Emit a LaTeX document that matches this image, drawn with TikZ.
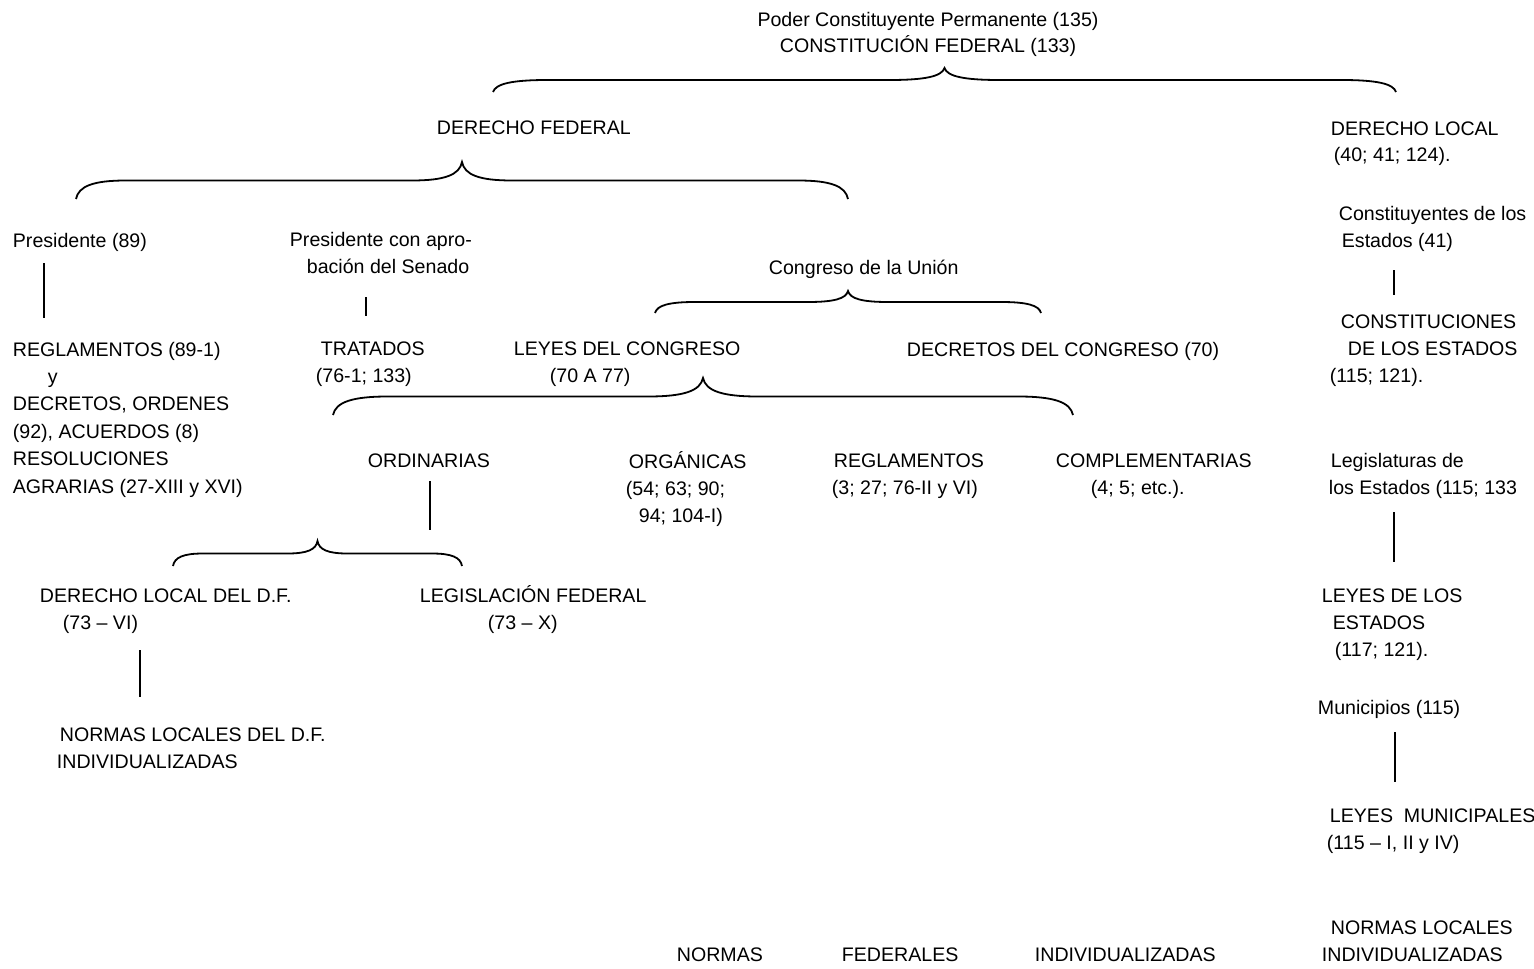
\documentclass[tikz,border=0pt]{standalone}
\usepackage{fontspec}
\setmainfont{Liberation Sans}
\usetikzlibrary{calc}

% curly brace opening downwards: x left, x right, y of the ends, height, curl width
\newcommand{\llave}[5]{%
  \draw (#1,#3) .. controls ({#1+0.05*#5},{#3-0.35*#4}) and ({#1+0.35*#5},{#3-0.5*#4}) .. ({#1+#5},{#3-0.5*#4})
    -- ({(#1+#2)/2-#5},{#3-0.5*#4}) .. controls ({(#1+#2)/2-0.35*#5},{#3-0.5*#4}) and ({(#1+#2)/2-0.05*#5},{#3-0.65*#4}) .. ({(#1+#2)/2},{#3-#4})
    .. controls ({(#1+#2)/2+0.05*#5},{#3-0.65*#4}) and ({(#1+#2)/2+0.35*#5},{#3-0.5*#4}) .. ({(#1+#2)/2+#5},{#3-0.5*#4})
    -- ({#2-#5},{#3-0.5*#4}) .. controls ({#2-0.35*#5},{#3-0.5*#4}) and ({#2-0.05*#5},{#3-0.35*#4}) .. (#2,#3);}

% multi-line texts sit on the baseline of their last line
\tikzset{
  txt/.style={anchor=base west, inner sep=0pt, align=left},
}

\begin{document}
\begin{tikzpicture}[x=0.5pt, y=-0.5pt, font=\fontsize{9.8}{13.4}\selectfont, line width=0.9pt]
  \useasboundingbox (0,0) rectangle (1534,968);

  % Constitucion
  \node[anchor=base, inner sep=0pt, align=center] (const) at (928,53)
    {Poder Constituyente Permanente (135)\\CONSTITUCIÓN FEDERAL (133)};
  \llave{493}{1396}{92}{24}{55}

  \node[txt] (fed) at (436,135) {DERECHO FEDERAL};
  \node[txt] (loc) at (1330,162) {DERECHO LOCAL\\\hspace*{1.5pt}(40; 41; 124).};

  % federal branch
  \llave{76}{848}{199}{37}{50}
  \node[txt] (pres) at (12,247) {Presidente (89)};
  \node[txt] (sen) at (289,273) {Presidente con apro-\\\hspace*{8.5pt}bación del Senado};
  \node[txt] (cong) at (768,274) {Congreso de la Unión};
  \llave{655}{1041}{313}{22}{40}

  \coordinate (b1a) at (44,263);  \coordinate (b1b) at (44,318);
  \coordinate (b2a) at (366,297); \coordinate (b2b) at (366,316);
  \draw (b1a) -- (b1b);
  \draw (b2a) -- (b2b);

  \node[txt, font=\fontsize{9.8}{13.7}\selectfont] (regl) at (12,493)
    {REGLAMENTOS (89-1)\\\hspace*{17.5pt}y\\DECRETOS, ORDENES\\(92), ACUERDOS (8)\\RESOLUCIONES\\AGRARIAS (27-XIII y XVI)};
  \node[txt] (trat) at (315,382) {\hspace*{2.5pt}TRATADOS\\(76-1; 133)};
  \node[txt] (leyes) at (513,382) {LEYES DEL CONGRESO\\\hspace*{18pt}(70 A 77)};
  \node[txt] (decr) at (906,356) {DECRETOS DEL CONGRESO (70)};

  % leyes del congreso
  \llave{333}{1073}{415}{37}{55}
  \node[txt] (ordi) at (367,467) {ORDINARIAS};
  \node[txt] (orga) at (625,522) {\hspace*{1.5pt}ORGÁNICAS\\(54; 63; 90;\\\hspace*{6.5pt}94; 104-I)};
  \node[txt] (regc) at (831,494) {\hspace*{1pt}REGLAMENTOS\\(3; 27; 76-II y VI)};
  \node[txt] (comp) at (1055,494) {COMPLEMENTARIAS\\\hspace*{17.5pt}(4; 5; etc.).};

  \coordinate (b3a) at (430,481); \coordinate (b3b) at (430,530);
  \draw (b3a) -- (b3b);
  \llave{173}{462}{566}{25}{30}

  \node[txt] (dfloc) at (39,629) {DERECHO LOCAL DEL D.F.\\\hspace*{11.5pt}(73 – VI)};
  \node[txt] (legf) at (419,629) {LEGISLACIÓN FEDERAL\\\hspace*{34pt}(73 – X)};
  \coordinate (b4a) at (140,650); \coordinate (b4b) at (140,697);
  \draw (b4a) -- (b4b);
  \node[txt] (dfnor) at (56,768) {\hspace*{1.5pt}NORMAS LOCALES DEL D.F.\\INDIVIDUALIZADAS};

  % local branch
  \node[txt] (cest) at (1338,247) {Constituyentes de los\\\hspace*{1.5pt}Estados (41)};
  \coordinate (b5a) at (1394,270); \coordinate (b5b) at (1394,295);
  \draw (b5a) -- (b5b);
  \node[txt] (const2) at (1329,382) {\hspace*{5.5pt}CONSTITUCIONES\\\hspace*{9pt}DE LOS ESTADOS\\(115; 121).};
  \node[txt] (legis) at (1328,494) {\hspace*{1pt}Legislaturas de\\los Estados (115; 133};
  \coordinate (b6a) at (1394,512); \coordinate (b6b) at (1394,562);
  \draw (b6a) -- (b6b);
  \node[txt] (lest) at (1321,656) {LEYES DE LOS\\\hspace*{5.5pt}ESTADOS\\\hspace*{6.5pt}(117; 121).};
  \node[txt] (muni) at (1317,714) {Municipios (115)};
  \coordinate (b7a) at (1395,732); \coordinate (b7b) at (1395,782);
  \draw (b7a) -- (b7b);
  \node[txt] (lmun) at (1326,849) {\hspace*{1.5pt}LEYES \ MUNICIPALES\\(115 – I, II y IV)};
  \node[txt] (nloc) at (1321,961) {\hspace*{4.5pt}NORMAS LOCALES\\INDIVIDUALIZADAS};

  % normas federales
  \node[txt] (nf1) at (676,961) {NORMAS};
  \node[txt] (nf2) at (841,961) {FEDERALES};
  \node[txt] (nf3) at (1034,961) {INDIVIDUALIZADAS};
\end{tikzpicture}
\end{document}
